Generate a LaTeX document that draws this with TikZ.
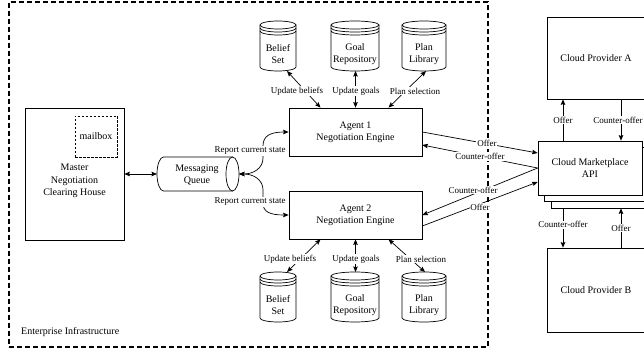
\documentclass[tikz,border=0pt]{standalone}
\usepackage{fontspec}
\setmainfont{Liberation Serif}
\usetikzlibrary{arrows.meta,shapes.geometric,shadows,calc}

\tikzset{
  mainfont/.style={font=\fontsize{10}{12}\selectfont},
  box/.style={draw, line width=0.7pt, fill=white, inner sep=2pt, align=center, mainfont},
  lbl/.style={fill=white, inner sep=0.8pt, font=\fontsize{9}{10}\selectfont},
  tip/.tip={Stealth[length=5.5pt,width=4.5pt,inset=0.8pt]},
  arr/.style={-tip, line width=0.7pt},
  darr/.style={tip-tip, line width=0.7pt},
  dbline/.style={line width=0.7pt},
  dbtext/.style={align=center, mainfont, inner sep=0pt},
  ghost/.style={inner sep=0pt, outer sep=0pt},
}

% #1 name, #2 centre x, #3 top y, #4 half width, #5 height, #6 text
\newcommand\dbcyl[6]{%
  \node[ghost, minimum width={2*#4pt}, minimum height={#5pt}] (#1) at (#2,{#3+#5/2}) {};
  \draw[dbline, fill=white] (#2-#4,{#3+4}) -- (#2-#4,{#3+#5-4})
     arc[start angle=180, end angle=360, x radius=#4pt, y radius=4pt] -- (#2+#4,{#3+4});
  \draw[dbline] (#2,{#3+4}) ellipse [x radius=#4pt, y radius=4pt];
  \draw[dbline] (#2-#4,{#3+7}) arc[start angle=180, end angle=360, x radius=#4pt, y radius=4pt];
  \draw[dbline] (#2-#4,{#3+10}) arc[start angle=180, end angle=360, x radius=#4pt, y radius=4pt];
  \node[dbtext] (#1t) at (#2,{#3+#5/2+8}) {#6};
}

\begin{document}
\begin{tikzpicture}[x=1pt,y=-1pt]
\clip (0,0) rectangle (644,352);

% enterprise boundary
\node[draw, dash pattern=on 5pt off 3pt, line width=1.4pt, minimum width=479pt,
      minimum height=345pt, inner sep=0pt] (ent) at (248.5,174.5) {};
\node[anchor=west, mainfont, inner sep=0pt] (entlbl) at (21,332) {Enterprise Infrastructure};

% master
\node[box, minimum width=99pt, minimum height=132pt] (master) at (74.5,174) {};
\node[dbtext, font=\fontsize{10}{12.5}\selectfont] (mastert) at (74.5,181) {Master\\Negotiation\\Clearing House};
\node[draw, line width=0.6pt, dash pattern=on 2.5pt off 1.5pt, minimum width=42pt,
      minimum height=41pt, mainfont] (mail) at (96,136.5) {mailbox};

% queue (horizontal cylinder)
\node[ghost, minimum width=82pt, minimum height=34pt] (mq) at (198,174) {};
\draw[dbline, fill=white] (232.5,157) -- (163.5,157)
   arc[start angle=90, end angle=270, x radius=6.5pt, y radius=17pt] -- (232.5,191);
\draw[dbline] (232.5,174) ellipse [x radius=6.5pt, y radius=17pt];
\node[dbtext] (mqt) at (197,175) {Messaging\\Queue};

% agents
\node[box, minimum width=133pt, minimum height=48pt] (a1) at (355.5,132) {Agent 1\\Negotiation Engine};
\node[box, minimum width=133pt, minimum height=48pt] (a2) at (355.5,215) {Agent 2\\Negotiation Engine};

% data stores
\dbcyl{bel1}{278}{21}{18}{50}{Belief\\Set}
\dbcyl{goal1}{355}{21}{24}{50}{Goal\\Repository}
\dbcyl{plan1}{424}{21}{22}{50}{Plan\\Library}
\dbcyl{bel2}{278}{272}{18}{50}{Belief\\Set}
\dbcyl{goal2}{355}{272}{24}{50}{Goal\\Repository}
\dbcyl{plan2}{424}{272}{22}{50}{Plan\\Library}

% cloud side
\node[box, double copy shadow={shadow xshift=6.5pt, shadow yshift=-6.5pt, line width=0.7pt},
      minimum width=104pt, minimum height=54pt] (mp) at (590,168) {Cloud Marketplace\\API};
\node[box, minimum width=98pt, minimum height=82pt] (cpa) at (596,58) {Cloud Provider A};
\node[box, minimum width=98pt, minimum height=84pt] (cpb) at (596,290) {Cloud Provider B};
\coordinate (mpb) at ([yshift=-13pt]mp.south);

% master <-> queue
\draw[darr] (master.east) -- (mq.west);

% queue <-> agents
\draw[darr] (mq.east) .. controls (254,174) and (263,168) .. (263,158) -- (263,146)
   .. controls (263,136) and (270,132) .. (a1.west);
\draw[darr] (mq.east) .. controls (254,174) and (263,180) .. (263,190) -- (263,203)
   .. controls (263,212) and (270,215) .. (a2.west);
\node[lbl] (rcs1) at (250,151) {Report current state};
\node[lbl] (rcs2) at (250,202) {Report current state};

% agent 1 <-> stores
\draw[darr] ([xshift=-35pt]a1.north) -- ([xshift=9pt]bel1.south);
\draw[darr] (a1.north) -- (a1.north |- goal1.south);
\draw[darr] ([xshift=33pt]a1.north) -- ([xshift=2pt]plan1.south);
\node[lbl] (ub1) at (297,91) {Update beliefs};
\node[lbl] (ug1) at (356,91) {Update goals};
\node[lbl] (ps1) at (415,91) {Plan selection};

% agent 2 <-> stores
\draw[darr] ([xshift=-35pt]a2.south) -- ([xshift=9pt]bel2.north);
\draw[darr] (a2.south) -- (a2.south |- goal2.north);
\draw[darr] ([xshift=33pt]a2.south) -- ([xshift=1pt]plan2.north);
\node[lbl] (ub2) at (290,259) {Update beliefs};
\node[lbl] (ug2) at (356,259) {Update goals};
\node[lbl] (ps2) at (421,259) {Plan selection};

% agents <-> marketplace
\draw[arr] (a1.east) -- node[lbl, pos=0.56] (o1) {Offer} ([yshift=15pt]mp.west);
\draw[arr] (mp.west) -- node[lbl, pos=0.5] (c1) {Counter-offer} ([yshift=-13pt]a1.east);
\draw[arr] (mp.west) -- node[lbl, pos=0.56, yshift=4pt] (c2) {Counter-offer} (a2.east);
\draw[arr] ([yshift=-11pt]a2.east) -- node[lbl, pos=0.5, yshift=-3pt] (o2) {Offer} ([yshift=-14pt]mp.west);

% marketplace <-> providers
\draw[arr] ([xshift=-27pt]mp.north) -- node[lbl] (oa) {Offer} ([xshift=-27pt]mp.north |- cpa.south);
\draw[arr] ([xshift=31pt]mp.north |- cpa.south) -- node[lbl, xshift=-3pt] (ca) {Counter-offer} ([xshift=31pt]mp.north);
\draw[arr] ([xshift=-27pt]mpb) -- node[lbl, pos=0.42] (cb) {Counter-offer} ([xshift=-27pt]mpb |- cpb.north);
\draw[arr] ([xshift=31pt]mpb |- cpb.north) -- node[lbl, pos=0.5] (ob) {Offer} ([xshift=31pt]mpb);
\end{tikzpicture}
\end{document}
